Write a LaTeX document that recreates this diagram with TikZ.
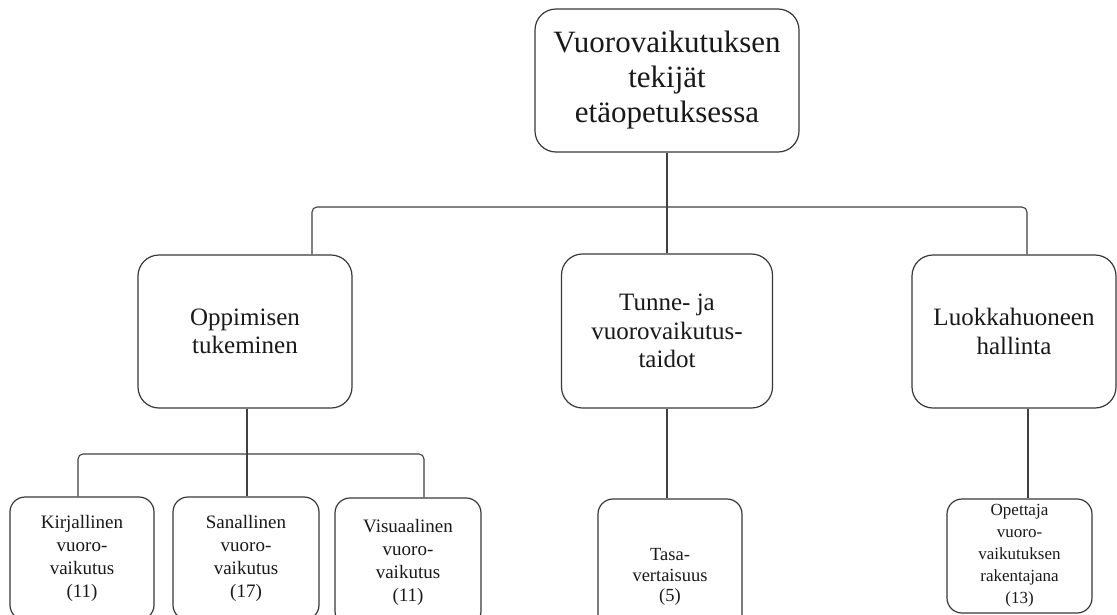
\documentclass[tikz,border=0pt]{standalone}
\usepackage{fontspec}
\setmainfont{Liberation Serif}
\tikzset{
  box/.style={draw=black!78, line width=1.2pt, fill=white, align=center,
    inner sep=0pt, text=black!90},
  bigbox/.style={box, rounded corners=21pt},
  smallbox/.style={box, rounded corners=15pt},
  link/.style={draw=black!75, line width=1.1pt, rounded corners=5pt},
  rootfont/.style={font=\fontsize{31}{35}\selectfont},
  midfont/.style={font=\fontsize{25}{28.5}\selectfont},
  leaffont/.style={font=\fontsize{19}{23}\selectfont},
}
\begin{document}
\begin{tikzpicture}[x=1pt, y=-1pt]
\clip (0,0) rectangle (1117,614);
\fill[white] (0,0) rectangle (1117,614);

% top level
\node[bigbox, rootfont, minimum width=264pt, minimum height=143pt] (root) at (667,80.5)
  {Vuorovaikutuksen\\tekijät\\etäopetuksessa};

% second level
\node[bigbox, midfont, minimum width=214pt, minimum height=153pt] (opp) at (245,331.5)
  {Oppimisen\\tukeminen};
\node[bigbox, midfont, minimum width=211pt, minimum height=154pt] (tun) at (667,331)
  {Tunne- ja\\vuorovaikutus-\\taidot};
\node[bigbox, midfont, minimum width=204pt, minimum height=153pt] (luo) at (1014,331.5)
  {Luokkahuoneen\\hallinta};

% third level
\node[smallbox, leaffont, minimum width=144pt, minimum height=123pt] (kir) at (82,558.5)
  {Kirjallinen\\vuoro-\\vaikutus\\(11)};
\node[smallbox, leaffont, minimum width=146pt, minimum height=123pt] (san) at (246,558.5)
  {Sanallinen\\vuoro-\\vaikutus\\(17)};
\node[smallbox, leaffont, minimum width=146pt, minimum height=128pt] (vis) at (408,562)
  {Visuaalinen\\vuoro-\\vaikutus\\(11)};
\node[smallbox, font=\fontsize{18.5}{20.5}\selectfont, minimum width=144pt, minimum height=156pt] (tas) at (670,577)
  {Tasa-\\vertaisuus\\(5)};
\node[smallbox, font=\fontsize{17}{22}\selectfont, minimum width=145pt, minimum height=114pt] (ope) at (1019.5,556)
  {Opettaja\\vuoro-\\vaikutuksen\\rakentajana\\(13)};

% branch points of the connectors
\coordinate (barL) at (312,207);
\coordinate (barR) at (1027,207);
\coordinate (subL) at (78,454);
\coordinate (subM) at (247,454);
\coordinate (subR) at (424,454);
\coordinate (opeX) at (1028,454);

% connectors
\draw[link] (root.south) -- (tun.north);
\draw[link] (opp.north -| barL) -- (barL) -- (barR) -- (luo.north -| barR);
\draw[link] (opp.south -| subM) -- (san.north -| subM);
\draw[link] (kir.north -| subL) -- (subL) -- (subR) -- (vis.north -| subR);
\draw[link] (tun.south) -- (tas.north -| tun.south);
\draw[link] (luo.south -| opeX) -- (ope.north -| opeX);
\end{tikzpicture}
\end{document}
